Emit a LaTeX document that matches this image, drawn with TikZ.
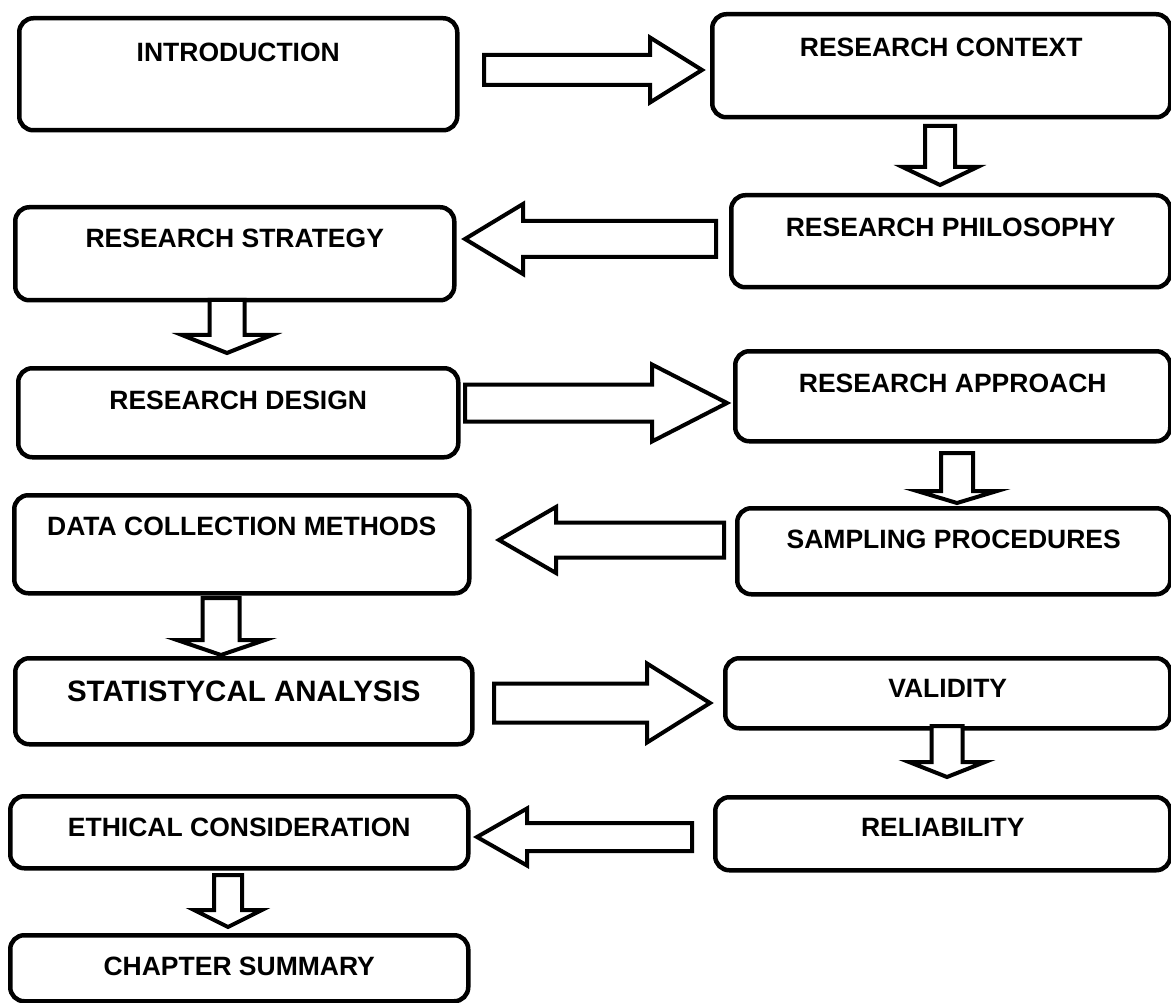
\documentclass[tikz,border=0pt]{standalone}
\usepackage{fontspec}
\setmainfont{Liberation Sans}

% block arrows: tail coordinate, apex coordinate, shaft half width, head half width, head length
\newcommand\blockright[5]{%
  \draw[blockarrow] ([yshift=#3]#1) -- ([xshift=-#5,yshift=#3]#2) -- ([xshift=-#5,yshift=#4]#2)
    -- (#2) -- ([xshift=-#5,yshift=-#4]#2) -- ([xshift=-#5,yshift=-#3]#2) -- ([yshift=-#3]#1) -- cycle;}
\newcommand\blockleft[5]{%
  \draw[blockarrow] ([yshift=#3]#1) -- ([xshift=#5,yshift=#3]#2) -- ([xshift=#5,yshift=#4]#2)
    -- (#2) -- ([xshift=#5,yshift=-#4]#2) -- ([xshift=#5,yshift=-#3]#2) -- ([yshift=-#3]#1) -- cycle;}
\newcommand\blockdown[5]{%
  \draw[blockarrow] ([xshift=-#3]#1) -- ([xshift=-#3,yshift=#5]#2) -- ([xshift=-#4,yshift=#5]#2)
    -- (#2) -- ([xshift=#4,yshift=#5]#2) -- ([xshift=#3,yshift=#5]#2) -- ([xshift=#3]#1) -- cycle;}

\begin{document}
\begin{tikzpicture}[x=1pt,y=-1pt,
  stagebox/.style={draw=black, line width=4.5pt, rounded corners=14pt, fill=white,
                   inner sep=0pt, anchor=north west},
  boxlabel/.style={font=\fontsize{26.5}{30}\selectfont\bfseries, inner sep=0pt, anchor=center},
  biglabel/.style={boxlabel, font=\fontsize{29.5}{33}\selectfont\bfseries},
  blockarrow/.style={draw=black, line width=4pt, fill=white, line join=miter}]

\useasboundingbox (0,0) rectangle (1171,1003);

% stages
\node[stagebox, minimum width=438pt, minimum height=112pt] (intro)    at (17,16)  {};
\node[stagebox, minimum width=458pt, minimum height=103pt] (context)  at (710,12) {};
\node[stagebox, minimum width=439pt, minimum height=92pt]  (phil)     at (729,193) {};
\node[stagebox, minimum width=439pt, minimum height=93pt]  (strategy) at (13,205) {};
\node[stagebox, minimum width=440pt, minimum height=89pt]  (design)   at (16,366) {};
\node[stagebox, minimum width=435pt, minimum height=90pt]  (approach) at (733,349) {};
\node[stagebox, minimum width=455pt, minimum height=98pt]  (data)     at (12,493) {};
\node[stagebox, minimum width=433pt, minimum height=86pt]  (sampling) at (735,506) {};
\node[stagebox, minimum width=457pt, minimum height=86pt]  (stat)     at (13,656) {};
\node[stagebox, minimum width=445pt, minimum height=70pt]  (validity) at (723,656) {};
\node[stagebox, minimum width=455pt, minimum height=73pt]  (reliab)   at (713,795) {};
\node[stagebox, minimum width=458pt, minimum height=72pt]  (ethical)  at (8,794) {};
\node[stagebox, minimum width=458pt, minimum height=66pt]  (summary)  at (8,933) {};

% stage titles
\node[boxlabel] (introtxt)    at ([yshift=-36pt]intro.north)    {INTRODUCTION};
\node[boxlabel] (contexttxt)  at ([yshift=-35pt]context.north)  {RESEARCH CONTEXT};
\node[boxlabel] (philtxt)     at ([yshift=-34pt]phil.north)     {RESEARCH PHILOSOPHY};
\node[boxlabel] (strategytxt) at ([yshift=-33pt]strategy.north) {RESEARCH STRATEGY};
\node[boxlabel] (designtxt)   at ([yshift=-34pt]design.north)   {RESEARCH DESIGN};
\node[boxlabel] (approachtxt) at ([yshift=-34pt]approach.north) {RESEARCH APPROACH};
\node[boxlabel] (datatxt)     at ([yshift=-33pt]data.north)     {DATA COLLECTION METHODS};
\node[boxlabel] (samplingtxt) at ([yshift=-33pt]sampling.north) {SAMPLING PROCEDURES};
\node[biglabel] (stattxt)     at ([yshift=-35pt]stat.north)     {STATISTYCAL ANALYSIS};
\node[boxlabel] (validitytxt) at ([yshift=-32pt]validity.north) {VALIDITY};
\node[boxlabel] (reliabtxt)   at ([yshift=-32pt]reliab.north)   {RELIABILITY};
\node[boxlabel] (ethicaltxt)  at ([yshift=-33pt]ethical.north)  {ETHICAL CONSIDERATION};
\node[boxlabel] (summarytxt)  at ([yshift=-33pt]summary.north)  {CHAPTER SUMMARY};

% arrow ends
\coordinate (a1t) at (484,70);  \coordinate (a1h) at (702,70);
\coordinate (a2t) at (940,126); \coordinate (a2h) at (940,185);
\coordinate (a3t) at (716,239); \coordinate (a3h) at (465,239);
\coordinate (a4t) at (227,300); \coordinate (a4h) at (227,353);
\coordinate (a5t) at (465,403); \coordinate (a5h) at (727,403);
\coordinate (a6t) at (957,453); \coordinate (a6h) at (957,503);
\coordinate (a7t) at (724,540); \coordinate (a7h) at (499,540);
\coordinate (a8t) at (221,598); \coordinate (a8h) at (221,655);
\coordinate (a9t) at (494,703); \coordinate (a9h) at (710,703);
\coordinate (a10t) at (947,726); \coordinate (a10h) at (947,777);
\coordinate (a11t) at (692,837); \coordinate (a11h) at (477,837);
\coordinate (a12t) at (228,875); \coordinate (a12h) at (228,927);

% flow arrows
\blockright{a1t}{a1h}{15pt}{32.5pt}{52pt}
\blockdown{a2t}{a2h}{15pt}{37.5pt}{18pt}
\blockleft{a3t}{a3h}{18pt}{35pt}{58pt}
\blockdown{a4t}{a4h}{17.5pt}{45pt}{18pt}
\blockright{a5t}{a5h}{18.5pt}{38.5pt}{75pt}
\blockdown{a6t}{a6h}{16pt}{40pt}{12pt}
\blockleft{a7t}{a7h}{17.5pt}{33pt}{57pt}
\blockdown{a8t}{a8h}{18.5pt}{44pt}{15pt}
\blockright{a9t}{a9h}{19.5pt}{39.5pt}{63pt}
\blockdown{a10t}{a10h}{15.5pt}{38pt}{15pt}
\blockleft{a11t}{a11h}{14pt}{28.5pt}{50pt}
\blockdown{a12t}{a12h}{14pt}{34pt}{17pt}

\end{tikzpicture}
\end{document}
